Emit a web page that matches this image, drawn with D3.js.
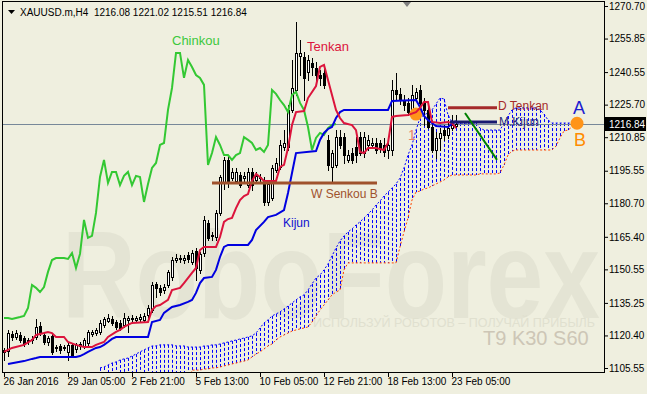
<!DOCTYPE html>
<html>
<head>
<meta charset="utf-8">
<script src="https://cdnjs.cloudflare.com/ajax/libs/d3/7.8.5/d3.min.js"></script>
<style>
  body { margin: 0; background: #efefdf; }
  text { font-family: "Liberation Sans", Arial, sans-serif; }
</style>
</head>
<body>
<svg id="chart"></svg>
<script>
// XAUUSD.m H4 candles, bar 0 = 26 Jan 2016
const open = [1112.9,1113.3,1121.1,1119.7,1120.6,1119.2,1118.3,1118.3,1119.7,1124.7,
  1120.6,1117.4,1120.2,1114.7,1115.6,1114.7,1112.9,1116.1,1114.2,1115.6,
  1115.6,1117.0,1121.1,1121.5,1122.0,1125.2,1127.0,1127.9,1126.5,1126.1,
  1125.2,1127.5,1128.4,1127.5,1127.9,1127.5,1129.7,1132.0,1143.9,1142.1,
  1141.1,1143.4,1147.1,1154.8,1155.3,1154.8,1157.1,1153.9,1158.9,1150.3,
  1158.0,1171.7,1166.2,1165.3,1176.3,1190.4,1200.5,1192.2,1190.9,1193.6,
  1192.2,1189.0,1195.0,1191.3,1192.2,1191.3,1181.3,1183.1,1195.9,1197.3,
  1206.4,1206.4,1223.3,1232.4,1247.9,1247.4,1240.6,1244.7,1242.4,1239.2,
  1240.1,1209.6,1197.3,1198.2,1210.9,1210.9,1200.5,1203.6,1206.4,1210.9,
  1203.6,1207.3,1207.3,1208.2,1208.2,1207.3,1205.0,1205.0,1232.4,1230.6,
  1227.8,1226.5,1223.3,1228.7,1232.4,1226.5,1223.3,1215.5,1205.0,1210.5,
  1214.1,1211.9,1215.0,1216.08];
const high = [1114.7,1122.9,1122.4,1122.9,1122.0,1120.2,1119.2,1120.2,1127.9,1126.5,
  1121.5,1120.2,1121.1,1116.1,1116.5,1116.1,1117.0,1117.0,1117.0,1117.4,
  1119.2,1122.9,1122.9,1123.8,1127.5,1128.8,1130.2,1129.3,1127.5,1127.5,
  1130.7,1129.3,1129.7,1129.3,1130.2,1130.7,1134.3,1144.8,1144.8,1143.4,
  1143.9,1150.3,1156.2,1157.6,1157.1,1157.1,1158.5,1159.4,1160.3,1158.5,
  1174.9,1173.1,1167.6,1177.6,1193.6,1201.8,1201.8,1196.8,1196.8,1195.0,
  1195.0,1196.8,1196.8,1195.0,1194.1,1192.7,1191.3,1198.2,1201.4,1209.6,
  1214.1,1225.5,1246.1,1263.4,1255.2,1249.7,1248.3,1247.0,1245.2,1241.5,
  1243.8,1211.9,1205.0,1214.1,1214.1,1212.8,1205.0,1205.9,1210.9,1213.2,
  1213.2,1211.9,1210.5,1210.5,1209.6,1210.5,1209.6,1236.9,1240.1,1233.3,
  1230.1,1228.7,1234.7,1233.3,1234.7,1228.7,1225.5,1217.8,1213.2,1215.0,
  1216.4,1218.7,1221.0,1221.02];
const low = [1109.2,1111.0,1118.3,1118.8,1117.4,1115.6,1116.5,1117.0,1118.8,1120.6,
  1116.5,1116.1,1111.9,1113.3,1112.4,1113.8,1109.2,1110.6,1112.9,1114.2,
  1114.7,1116.1,1120.2,1120.6,1121.1,1124.3,1126.5,1125.2,1123.4,1122.9,
  1124.3,1122.0,1126.5,1126.5,1126.5,1126.5,1128.4,1131.1,1138.0,1138.9,
  1139.8,1142.5,1145.7,1153.9,1153.9,1153.5,1153.9,1153.0,1145.7,1148.9,
  1156.7,1164.0,1164.0,1164.0,1175.4,1187.2,1188.1,1191.3,1190.0,1188.1,
  1190.4,1188.1,1186.8,1190.0,1190.9,1179.9,1179.9,1182.2,1195.0,1196.3,
  1205.0,1205.0,1222.3,1230.1,1239.2,1227.8,1236.9,1239.2,1236.0,1234.7,
  1233.3,1195.9,1190.4,1197.3,1205.9,1199.1,1199.5,1199.1,1199.5,1202.7,
  1201.8,1205.0,1205.9,1203.6,1204.1,1202.3,1201.4,1202.7,1227.8,1226.0,
  1223.3,1221.0,1222.3,1227.8,1224.2,1216.4,1215.0,1204.1,1201.4,1205.0,
  1209.6,1210.5,1214.1,1215.51];
const close = [1113.8,1121.5,1119.7,1121.5,1118.3,1116.5,1117.9,1118.8,1124.3,1121.5,
  1117.4,1119.2,1112.9,1115.1,1113.8,1115.1,1116.1,1111.5,1116.1,1116.5,
  1118.3,1122.0,1122.0,1122.9,1126.1,1127.9,1128.4,1126.1,1124.3,1123.8,
  1128.4,1128.4,1127.9,1128.4,1128.8,1129.3,1132.9,1143.4,1142.1,1140.2,
  1142.5,1149.4,1154.8,1155.7,1155.7,1155.7,1155.3,1158.0,1151.2,1157.6,
  1173.1,1164.9,1165.8,1176.3,1192.7,1200.5,1190.0,1195.0,1195.0,1189.0,
  1193.2,1195.0,1189.0,1193.2,1192.7,1181.3,1189.5,1196.8,1199.1,1207.3,
  1208.2,1223.3,1233.3,1249.3,1249.3,1237.9,1246.1,1242.9,1239.2,1237.9,
  1234.7,1198.2,1203.6,1210.9,1207.3,1202.7,1202.7,1200.5,1202.7,1203.6,
  1210.9,1209.6,1208.2,1205.0,1205.9,1204.1,1207.3,1232.4,1230.6,1227.8,
  1225.5,1222.3,1230.1,1231.5,1226.5,1223.3,1215.5,1205.0,1210.5,1212.8,
  1211.9,1215.0,1216.4,1216.84];

// Ichimoku T9 K30 S60, line vertices [bar, price]
const tenkan = [[0,1112.9],[1,1113.8],[2,1114.7],[5,1116.1],[7,1118.3],[8,1120.6],[10,1121.5],
  [11,1122.0],[12,1121.5],[13,1119.7],[15,1119.7],[16,1117.4],[18,1116.1],[20,1115.1],
  [22,1115.1],[23,1116.1],[25,1117.4],[26,1119.7],[28,1122.0],[29,1122.9],[30,1124.3],
  [32,1126.1],[36,1126.5],[37,1132.0],[38,1133.8],[39,1134.3],[41,1136.6],[42,1141.1],
  [44,1142.1],[45,1144.3],[47,1148.9],[48,1151.2],[49,1159.4],[50,1160.8],[53,1160.8],
  [54,1165.3],[55,1172.2],[56,1173.5],[57,1174.0],[58,1178.5],[59,1182.2],[60,1184.0],
  [61,1184.9],[62,1190.9],[63,1194.1],[64,1192.7],[65,1190.9],[68,1190.9],[69,1197.3],
  [70,1198.2],[71,1205.9],[72,1216.4],[73,1222.3],[75,1222.8],[76,1228.7],[78,1234.2],
  [79,1242.9],[80,1243.8],[81,1236.9],[82,1230.1],[83,1223.3],[84,1219.6],[85,1217.3],
  [87,1216.4],[88,1214.1],[89,1204.1],[90,1203.6],[91,1205.9],[93,1205.9],[95,1205.0],
  [96,1208.2],[97,1220.1],[98,1220.5],[101,1221.0],[103,1222.3],[104,1224.2],[105,1226.9],
  [106,1226.9],[107,1217.8],[109,1217.3],[111,1217.8],[112,1217.3],[113,1215.0]];
const kijun = [[1,1107.4],[5,1108.7],[7,1109.7],[8,1110.1],[9,1110.6],[18,1110.6],[19,1111.0],
  [20,1111.9],[21,1112.9],[22,1113.8],[23,1114.7],[24,1115.1],[25,1116.1],[26,1117.4],
  [27,1118.8],[28,1119.7],[36,1119.7],[37,1126.5],[39,1127.5],[40,1130.7],[42,1133.4],
  [44,1134.3],[46,1135.7],[47,1136.6],[48,1139.8],[49,1144.3],[50,1146.6],[52,1147.1],
  [53,1150.3],[54,1156.2],[55,1160.8],[56,1161.7],[61,1161.7],[62,1164.0],[63,1168.5],
  [65,1172.2],[66,1174.4],[68,1175.4],[70,1177.6],[71,1185.4],[72,1194.5],[73,1203.6],
  [78,1204.5],[79,1209.6],[80,1212.8],[81,1214.6],[82,1215.5],[83,1219.6],[84,1222.3],
  [85,1223.3],[96,1223.3],[97,1227.4],[103,1227.8],[104,1224.6],[105,1220.5],[106,1218.7],
  [107,1217.3],[108,1215.9],[111,1215.5],[112,1216.9],[113,1218.2]];
const chinkouShift = 30;

// cloud, one value per bar from bar spanStart to bar 143
const spanStart = 24;
const spanA = [1105.6,1106.0,1106.9,1107.8,1108.3,1109.2,1109.7,1110.1,1111.0,1111.9,
  1112.9,1113.8,1114.7,1115.6,1115.6,1116.1,1116.1,1116.1,1116.1,1115.6,
  1115.6,1115.6,1115.1,1115.1,1115.1,1115.1,1115.6,1115.6,1116.1,1116.1,
  1116.5,1117.0,1117.4,1117.9,1118.3,1118.8,1119.2,1119.7,1120.2,1121.5,
  1123.8,1126.1,1127.5,1129.3,1130.2,1131.1,1132.5,1133.8,1135.2,1136.6,
  1138.0,1138.9,1141.1,1143.9,1146.6,1148.0,1150.3,1153.0,1156.7,1160.3,
  1163.5,1165.8,1167.6,1169.0,1170.8,1172.2,1174.0,1175.8,1177.6,1179.9,
  1181.7,1184.0,1185.8,1187.7,1189.5,1192.2,1196.8,1202.7,1207.3,1214.1,
  1219.6,1221.0,1221.9,1223.3,1226.0,1228.7,1228.3,1221.0,1217.8,1217.3,
  1217.3,1217.3,1217.3,1217.3,1217.3,1215.0,1214.1,1214.1,1214.1,1214.1,
  1214.1,1217.3,1220.5,1223.3,1224.2,1224.2,1224.2,1224.2,1224.2,1224.2,
  1223.3,1221.4,1218.7,1217.3,1217.3,1217.3,1217.3,1217.3,1217.3,1217.3];
const spanB = [1097.8,1097.8,1097.8,1097.8,1097.8,1097.8,1097.8,1097.8,1097.8,1097.8,
  1097.8,1097.8,1097.8,1097.8,1097.8,1097.8,1097.8,1097.8,1097.8,1097.8,
  1097.8,1097.8,1097.8,1104.6,1104.6,1104.6,1105.1,1105.1,1105.6,1105.6,
  1106.0,1106.5,1106.9,1107.4,1107.8,1108.3,1108.7,1109.2,1110.6,1111.9,
  1112.9,1114.2,1115.6,1116.5,1118.3,1119.7,1120.6,1121.5,1122.4,1122.9,
  1123.4,1123.8,1124.3,1126.5,1129.3,1132.0,1134.3,1136.6,1138.9,1140.2,
  1141.1,1150.3,1153.5,1153.5,1153.5,1153.5,1153.5,1153.5,1153.5,1153.5,
  1153.5,1153.5,1153.5,1153.5,1153.5,1160.8,1167.6,1174.0,1182.2,1185.8,
  1186.3,1187.2,1187.7,1188.6,1189.5,1190.4,1191.3,1192.7,1193.6,1193.6,
  1193.6,1193.6,1193.6,1193.6,1193.6,1194.1,1194.1,1194.1,1194.1,1194.1,
  1194.5,1198.2,1202.7,1204.5,1205.0,1205.0,1205.0,1205.0,1205.0,1205.0,
  1205.0,1205.0,1205.0,1205.0,1206.8,1210.5,1213.7,1214.1,1215.5,1216.4];

// axes
const priceTicks = [1270.70,1255.85,1240.55,1225.70,1210.85,1195.55,1180.70,1165.40,1150.55,1135.25,1120.40,1105.55];
const timeTicks = [0,16,32,48,64,80,96,112];
const timeLabels = ["26 Jan 2016","29 Jan 05:00","2 Feb 21:00","5 Feb 13:00","10 Feb 05:00","12 Feb 21:00","18 Feb 13:00","23 Feb 05:00"];
const lastPrice = 1216.84;
const header = "XAUUSD.m,H4  1216.08 1221.02 1215.51 1216.84";

// drawn objects [bar, price]
const wSenkouB = [[52,1190.0],[93.25,1190.0]];
const dTenkan = [[111,1224.3],[123.25,1224.3]];
const mKijun = [[111.5,1217.8],[123.25,1217.8]];
const trend = [[115.25,1221.9],[123.25,1200.5]];
const marks = [[103,1221.4],[143.25,1217.2]];

const width = 647, height = 394;
const svg = d3.select("#chart").attr("width", width).attr("height", height);
const bg = "#efefdf";
svg.append("rect").attr("width", width).attr("height", height).attr("fill", bg);

const x = d3.scaleLinear().domain([0, 150]).range([4, 604]);
const y = d3.scaleLinear().domain([1105.55, 1270.70]).range([368, 6]);
const px = (i) => Math.round(x(i)) + 0.5;

svg.append("clipPath").attr("id", "plotClip")
  .append("rect").attr("x", 3).attr("y", 2).attr("width", 601).attr("height", 370);

const g = svg.append("g").attr("clip-path", "url(#plotClip)");

// watermark
g.append("text").attr("x", 62).attr("y", 318)
  .attr("font-size", 124).attr("font-weight", "bold")
  .attr("textLength", 538).attr("lengthAdjust", "spacingAndGlyphs")
  .attr("fill", "#e4e4d4").text("RoboForex");
g.append("text").attr("x", 313).attr("y", 327)
  .attr("font-size", 13).attr("textLength", 282).attr("lengthAdjust", "spacingAndGlyphs")
  .attr("fill", "#e0e0cf").text("ИСПОЛЬЗУЙ РОБОТОВ – ПОЛУЧАЙ ПРИБЫЛЬ");
g.append("text").attr("x", 483).attr("y", 345)
  .attr("font-size", 20).attr("fill", "#cdc6b6").text("T9 K30 S60");

// cloud hatch
const cloud = spanA.map((a, k) => ({i: spanStart + k, a: a, b: spanB[k]}));
g.append("g").selectAll("line").data(cloud).join("line")
  .attr("x1", (d) => px(d.i)).attr("x2", (d) => px(d.i))
  .attr("y1", (d) => y(d.a)).attr("y2", (d) => y(d.b))
  .attr("stroke", "#0000ff").attr("stroke-width", 1).attr("stroke-dasharray", "3,2");

const line = d3.line().x((d) => x(d[0])).y((d) => y(d[1]));
g.append("path").attr("d", line(cloud.map((d) => [d.i, d.a])))
  .attr("fill", "none").attr("stroke", "#0000ff").attr("stroke-dasharray", "2,2");
g.append("path").attr("d", line(cloud.map((d) => [d.i, d.b])))
  .attr("fill", "none").attr("stroke", "#ff4500").attr("stroke-dasharray", "2,2");

// current price line
g.append("line").attr("x1", 3).attr("x2", 604)
  .attr("y1", Math.round(y(lastPrice)) + 0.5).attr("y2", Math.round(y(lastPrice)) + 0.5)
  .attr("stroke", "#778899");

// candles
const bars = close.map((c, i) => ({i: i, o: open[i], h: high[i], l: low[i], c: c}));
const candle = g.append("g").selectAll("g").data(bars).join("g");
candle.append("line")
  .attr("x1", (d) => px(d.i)).attr("x2", (d) => px(d.i))
  .attr("y1", (d) => Math.round(y(d.h))).attr("y2", (d) => Math.round(y(d.l)) + 1)
  .attr("stroke", "#000");
candle.append("rect")
  .attr("x", (d) => px(d.i) - 1)
  .attr("y", (d) => Math.round(y(Math.max(d.o, d.c))) + 0.5)
  .attr("width", 2)
  .attr("height", (d) => Math.max(0, Math.round(y(Math.min(d.o, d.c))) - Math.round(y(Math.max(d.o, d.c)))))
  .attr("fill", (d) => d.c >= d.o ? "#fff" : "#000")
  .attr("stroke", "#000").attr("shape-rendering", "crispEdges");

// orange marks
g.selectAll(".mark").data(marks).join("circle").attr("class", "mark")
  .attr("cx", (d) => x(d[0])).attr("cy", (d) => y(d[1])).attr("r", 6.5)
  .attr("fill", "#ff9419");

// ichimoku lines
const chinkou = close.slice(chinkouShift).map((c, k) => [k, c]);
g.append("path").attr("d", line(chinkou)).attr("fill", "none")
  .attr("stroke", "#33c833").attr("stroke-width", 2);
g.append("path").attr("d", line(kijun)).attr("fill", "none")
  .attr("stroke", "#0000e0").attr("stroke-width", 2);
g.append("path").attr("d", line(tenkan)).attr("fill", "none")
  .attr("stroke", "#dc143c").attr("stroke-width", 2);

// drawn objects
g.append("path").attr("d", line(wSenkouB)).attr("stroke", "#a0522d").attr("stroke-width", 3);
g.append("path").attr("d", line(dTenkan)).attr("stroke", "#a52a2a").attr("stroke-width", 3);
g.append("path").attr("d", line(mKijun)).attr("stroke", "#191970").attr("stroke-width", 3);
g.append("path").attr("d", line(trend)).attr("stroke", "#008000").attr("stroke-width", 2);

const label = (t, xx, yy, size, color) => g.append("text")
  .attr("x", xx).attr("y", yy).attr("font-size", size).attr("fill", color).text(t);
label("Chinkou", 172, 45, 13, "#3cc83c");
label("Tenkan", 307, 51, 13, "#dc143c");
label("Kijun", 283, 227, 12, "#1010d0");
label("W Senkou B", 311, 198, 12, "#a0522d");
label("D Tenkan", 498, 110, 12, "#a52a2a");
label("M.Kijun", 499, 126, 12, "#2a2a78");
label("1", 408, 140, 14, "#e8826a");
label("A", 573, 114, 18, "#1c1cd0");
label("B", 574, 146, 18, "#ff8c00");

// frame and axes
svg.append("rect").attr("x", 2.5).attr("y", 1.5).attr("width", 602).attr("height", 371)
  .attr("fill", "none").attr("stroke", "#000");

const yAxis = d3.axisRight(y).tickValues(priceTicks).tickSize(4).tickSizeOuter(0)
  .tickPadding(1).tickFormat(d3.format(".2f"));
const ya = svg.append("g").attr("transform", "translate(604,0)").call(yAxis);
ya.select(".domain").remove();
ya.selectAll("text").attr("font-size", 10).attr("font-family", null).attr("fill", "#000");

const xAxis = d3.axisBottom(x).tickValues(timeTicks).tickSize(5).tickSizeOuter(0)
  .tickFormat((d, k) => timeLabels[k]);
const xa = svg.append("g").attr("transform", "translate(0,372)").call(xAxis);
xa.select(".domain").remove();
xa.selectAll("text").attr("font-size", 10).attr("font-family", null)
  .attr("text-anchor", "start").attr("x", -1).attr("y", 6).attr("fill", "#000");

// last price box
svg.append("rect").attr("x", 605).attr("y", Math.round(y(lastPrice)) - 7)
  .attr("width", 41).attr("height", 14).attr("fill", "#000");
svg.append("text").attr("x", 609).attr("y", y(lastPrice)).attr("dy", "0.35em")
  .attr("font-size", 10).attr("fill", "#fff").text(lastPrice.toFixed(2));

// header
svg.append("path").attr("d", "M8,10 L15,10 L11.5,14 Z").attr("fill", "#000");
svg.append("text").attr("x", 20).attr("y", 15.5).attr("font-size", 10)
  .attr("fill", "#000").attr("xml:space", "preserve").text(header);
svg.append("path").attr("d", "M403,2 L411,2 L407,7 Z").attr("fill", "#808080");
</script>
</body>
</html>
